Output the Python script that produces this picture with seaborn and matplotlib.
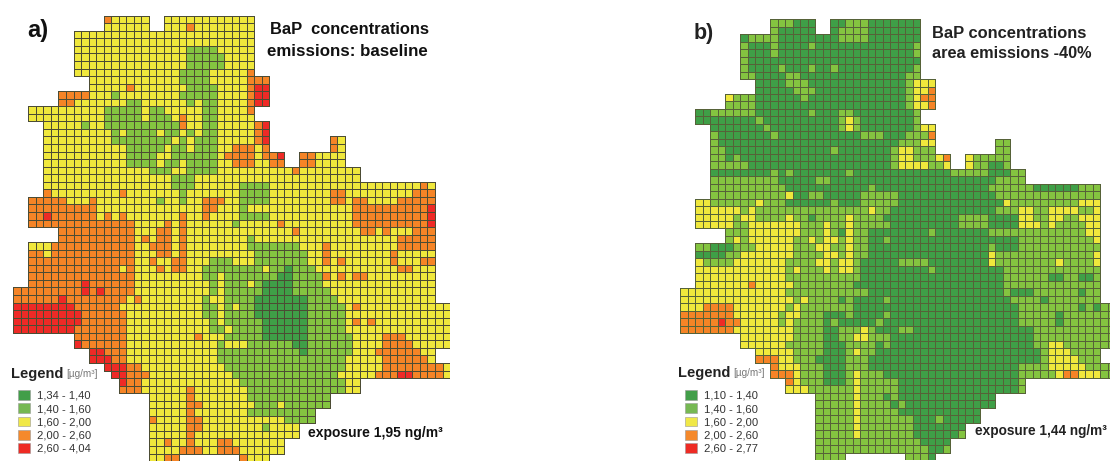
import numpy as np
import seaborn as sns
import matplotlib
matplotlib.use("Agg")
import matplotlib.pyplot as plt
from matplotlib.colors import ListedColormap, to_rgba
from matplotlib.patches import Patch

plt.rcParams["font.family"] = ["Liberation Sans", "DejaVu Sans"]

#concentration classes, one row per grid line, run-length coded
#d,g,y,o,r = class 1..5 of the legend, "." = outside the city
rows_a = [
"12. 1o 5y 2. 12y", "12. 6y 2. 3y 1o 8y", "8. 24y", "8. 24y",
"8. 15y 4g 5y", "8. 15y 5g 4y", "8. 15y 5g 4y", "8. 14y 4g 5y 1o",
"10. 12y 4g 5y 3o", "10. 5y 1o 7y 4g 4y 1o 2r", "6. 4o 3y 1g 8y 5g 4y 1o 2r",
"6. 2o 7y 2g 6y 1g 1y 2g 4y 1o 2r", "2. 10y 5g 1y 2g 5y 2g 4y 1o",
"2. 10y 5g 1y 3g 1y 1o 2y 2g 5y", "4. 5y 1g 2y 10g 1o 2y 2g 5y 1o 1r",
"4. 9y 1g 1y 4g 1y 2g 1y 1g 1y 2g 5y 1o 1r",
"4. 9y 8g 1y 1g 1y 3g 5y 1o 1r 8. 1o 1y",
"4. 11y 5g 1y 2g 1y 3g 2y 3o 1y 1o 8. 1o 1y",
"4. 11y 4g 2y 6g 1y 4o 1y 2o 1r 2. 2o 4y",
"4. 11y 4g 1y 2g 1y 4g 2y 3o 2y 2o 2. 2o 4y",
"4. 14y 3g 2y 4g 10y 1o 8y", "4. 17y 3g 22y", "4. 17y 3g 6y 4g 20y 1o 1y",
"4. 1o 9y 1o 7y 1g 7y 4g 8y 2o 9y 3o",
"2. 5o 3y 1o 8y 1g 2y 1g 2y 3o 2y 4g 8y 2o 1y 2o 4y 5o",
"2. 9o 14y 2o 3y 1g 14y 10o 1r",
"2. 2o 1r 6o 1y 1o 1y 1o 7y 1o 2y 1o 4y 4g 11y 10o 1r",
"2. 14o 4y 1o 1y 1o 6y 1g 5y 1o 9y 10o 1r",
"6. 10o 3y 2o 1y 1o 14y 1o 8y 2o 1y 1o 3y 3o",
"6. 10o 1y 1o 1y 2o 1y 1o 8y 1g 19y 5o",
"2. 3y 11o 2y 3o 1y 1o 8y 7g 3y 1o 9y 5o",
"2. 2o 1y 11o 3y 2o 1y 1o 9y 7g 2y 1o 8y 1o 5y",
"2. 14o 2y 1o 2y 2o 3y 3g 3y 7g 2y 1o 1y 1o 6y 1o 3y 2o",
"2. 12o 1y 1o 3y 1o 1y 2o 2y 8g 1y 2g 1d 3g 11y 2o 3y",
"2. 14o 9y 2g 1y 7g 2d 4g 1o 1y 1o 1y 2o 9y",
"2. 7o 1r 6o 10y 1g 1y 3g 1y 1g 4d 4g 15y",
"9o 1r 1o 1r 4o 10y 1g 1y 5g 4d 5g 14y",
"6o 1r 8o 1y 1o 8y 1g 2y 4g 7d 4g 13y",
"8r 6o 11y 2g 1y 1g 1y 2g 7d 5g 1y 1o 12y",
"9r 6o 10y 2g 1y 4g 7d 5g 14y",
"9r 6o 11y 1g 1y 5g 6d 5g 1y 1o 1y 1o 10y",
"8r 7o 11y 2g 1y 4g 6d 5g 14y",
"8. 7o 9y 1o 3y 5g 6d 6g 4y 3o 6y",
"8. 1r 6o 12y 1g 3y 6g 2d 6g 4y 4o 5y",
"10. 2r 3o 12y 10g 1g 1d 6g 3y 6o 2y",
"10. 3r 2o 12y 17g 5y 6o 1y",
"12. 3r 2o 11y 16g 5y 8o 1y",
"13. 2r 3o 11y 14g 5y 3o 2r 4o 1y",
"14. 1r 2o 13y 14g 2y",
"14. 3o 6y 1o 7y 13g 2y",
"18. 5y 1o 7y 11g",
"18. 5y 2o 7y 3g 1y 6g",
"18. 5y 1o 7y 9g",
"18. 1o 4y 2o 11y 4g",
"18. 5y 2o 8y 1g 4y",
"18. 5y 1o 14y",
"18. 2y 1o 2y 1o 3y 2o 7y",
"18. 4y 3o 2y 3o 6y",
"18. 2y 2o 8. 1o 3y",
]

rows_b = [
"12. 3g 3d 2. 2d 3g 7d", "12. 1g 5d 2. 1d 4g 7d", "8. 1d 4g 8d 4g 7d",
"8. 1g 3d 1g 4d 1g 13d 1g", "8. 1g 3d 1g 18d 1g", "8. 1g 23d",
"8. 1g 4d 1g 3d 1g 2d 1g 10d 1g", "8. 2g 4d 2g 14d 2g", "10. 4d 3g 13d 1g 3y",
"10. 5d 3g 12d 1g 2y 1o", "6. 1y 3g 6d 1g 13d 1g 1y 2o", "6. 4g 20d 1g 2y 1o",
"2. 2d 6g 7d 1g 3d 2g 8d 1g", "2. 8d 1g 10d 1g 1y 1g 7d 1g",
"4. 7d 1g 9d 1g 1y 1g 7d 1g 2y", "4. 1g 7d 1g 11d 3g 3d 3g 1o",
"4. 1g 24d 3g 2y 8. 2g", "4. 2g 14d 1g 7d 1g 2y 3g 8. 2g",
"4. 2g 1d 1g 20d 1g 2y 3g 1y 1o 2. 1y 5g",
"4. 5g 19d 1g 4y 2g 1y 2. 1y 2g 2d 1g",
"4. 8d 1g 1d 1g 7d 1g 13d 5g 3d 2g", "4. 9g 5d 2g 22d 4g",
"4. 10g 11d 1g 15d 6g 6d 3g", "4. 10g 1y 2d 2g 5d 5g 13d 14g",
"2. 2y 6g 1y 3g 6d 1g 3d 5g 14d 1y 9g 3y",
"2. 6y 1g 1y 15g 1y 2g 14d 3g 2y 2g 4y 2g 1y",
"2. 5y 1g 2y 4g 1y 2g 1d 4g 1y 4g 10d 4g 4d 2y 2g 2y 2g 3y",
"2. 5y 2g 7y 3g 1y 2g 1y 5g 9d 4g 4d 3y 1g 1y 4g 2y",
"6. 3g 7y 3g 1y 1g 1d 1y 2g 8d 1g 7d 13g 2y",
"6. 1g 1y 1g 6y 2g 1y 1g 2y 1g 1y 2g 2d 1g 17d 10g 1y",
"2. 2g 3d 3g 5y 3g 2y 2g 1y 2g 16d 1g 3d 11g",
"2. 4d 2g 7y 4g 2y 1g 1y 2g 16d 1y 13g 1y",
"2. 1y 4g 7y 4g 2y 1g 2y 1g 5d 4g 8d 1y 8g 1y 4g 1y",
"2. 12y 1g 1y 3g 1y 1g 2y 1g 9d 1g 9d 13g",
"2. 12y 10g 19d 6g 2d 2g 2d 1g",
"2. 7y 1o 5y 8g 20d 13g",
"14y 11g 18d 1g 3d 6g 1d 2g",
"15y 1g 1y 4g 1d 1g 4d 1g 16d 4g 1d 7g",
"3y 4o 7y 1g 1y 7g 22d 8g 1d 1g 1d 2g",
"7o 6y 1g 2y 3g 3d 1g 4d 1g 17d 5g 1d 7g",
"5o 1r 2o 5y 1g 1y 4g 1d 1g 5d 1g 18d 5g 1d 7g",
"7o 8y 4g 2d 3g 1y 1g 3d 2g 16d 11g",
"8. 7y 4g 2d 2g 2y 3g 19d 11g",
"8. 6y 5g 3d 4g 1d 1g 19d 2g 2y 7g",
"10. 5y 4g 3d 1g 1y 2g 22d 1g 3y 4g",
"10. 3o 2y 3g 4d 3g 23d 1g 4y 3g",
"12. 1o 3y 3g 3d 3g 20d 4g 5y 4g",
"12. 3o 1y 3g 3d 1g 1y 3g 18d 5g 1y 2o 3y 2g",
"14. 1o 1y 3g 3d 1g 1y 5g 16d 1g",
"14. 3y 6g 1y 5g 16d 1g",
"18. 5g 1y 3g 1d 1g 13d",
"18. 5g 1y 4g 1d 1g 12d",
"18. 5g 1y 5g 11d",
"18. 5g 1y 7g 3d 1g 5d",
"18. 5g 1y 7g 7d",
"18. 5g 1y 7g 6d 1g",
"18. 14g 4d",
"18. 15g 2d 1g",
"18. 4g 8. 3g 1d",
]

labels_a = ["1,34 - 1,40", "1,40 - 1,60", "1,60 - 2,00", "2,00 - 2,60", "2,60 - 4,04"]
labels_b = ["1,10 - 1,40", "1,40 - 1,60", "1,60 - 2,00", "2,00 - 2,60", "2,60 - 2,77"]
class_order = "dgyor"
map_colors = ["#3f9f47", "#84c440", "#f0e83c", "#f58426", "#ee2a26"]
legend_colors = ["#429e49", "#76b853", "#f0e847", "#f5892b", "#ee2b24"]
n_rows = 59
n_cols = 58
W, H = 1110, 461


def decode(rows):
    grid = np.full((n_rows, n_cols), np.nan)
    for j, row in enumerate(rows):
        i = 0
        for tok in row.split():
            n, c = int(tok[:-1]), tok[-1]
            if c != ".":
                grid[j, i:i + n] = class_order.index(c)
            i += n
    return grid


def add_panel(rows, left, top, dx, dy, line_color):
    ax = fig.add_axes([left / W, 1 - (top + dy * n_rows) / H, dx * n_cols / W, dy * n_rows / H])
    grid = decode(rows)
    sns.heatmap(grid, ax=ax, cmap=ListedColormap(map_colors), vmin=-0.5, vmax=4.5, cbar=False,
                linewidths=0.45, linecolor=line_color, xticklabels=False, yticklabels=False)
    #outline only the cells that exist, the mesh also strokes the empty ones
    mesh = ax.collections[0]
    edges = np.tile(to_rgba(line_color), (grid.size, 1))
    edges[np.isnan(grid).ravel(), 3] = 0
    mesh.set_edgecolor(edges)
    ax.axis("off")


def txt(x, y, s, **kw):
    kw.setdefault("va", "center")
    fig.text(x / W, 1 - y / H, s, **kw)


def add_legend(labels, x, y):
    handles = [Patch(facecolor=c, edgecolor="#999999", linewidth=0.4, label=l)
               for c, l in zip(legend_colors, labels)]
    fig.legend(handles=handles, loc="upper left", bbox_to_anchor=(x / W, 1 - y / H), frameon=False,
               fontsize=8.1, labelcolor="#333333", borderpad=0, borderaxespad=0, labelspacing=0.22,
               handlelength=1.07, handleheight=0.97, handletextpad=0.6)


fig = plt.figure(figsize=(W / 100, H / 100), dpi=100)
add_panel(rows_a, 13.3, 15.7, 7.53, 7.55, "#4c4c34")
add_panel(rows_b, 680.3, 19.3, 7.5, 7.47, "#566238")

txt(27, 30, "a)", fontsize=17, fontweight="bold", color="#111111")
txt(270, 29, "BaP  concentrations", fontsize=11.9, fontweight="bold", color="#111111")
txt(267, 51, "emissions: baseline", fontsize=12.2, fontweight="bold", color="#111111")
txt(11, 374, "Legend", fontsize=10.5, fontweight="bold", color="#222222")
txt(66, 374, "[µg/m³]", fontsize=7.2, color="#777777")
add_legend(labels_a, 18, 390)
txt(308, 433, "exposure 1,95 ng/m³", fontsize=10, fontweight="bold", color="#111111")

txt(694, 33, "b)", fontsize=15.5, fontweight="bold", color="#222222")
txt(932, 33, "BaP concentrations", fontsize=11.9, fontweight="bold", color="#222222")
txt(932, 53, "area emissions -40%", fontsize=11.7, fontweight="bold", color="#222222")
txt(678, 373, "Legend", fontsize=10.5, fontweight="bold", color="#222222")
txt(733, 373, "[µg/m³]", fontsize=7.2, color="#777777")
add_legend(labels_b, 685, 390)
txt(975, 431, "exposure 1,44 ng/m³", fontsize=9.8, fontweight="bold", color="#222222")

fig.savefig("out.png", dpi=100)
